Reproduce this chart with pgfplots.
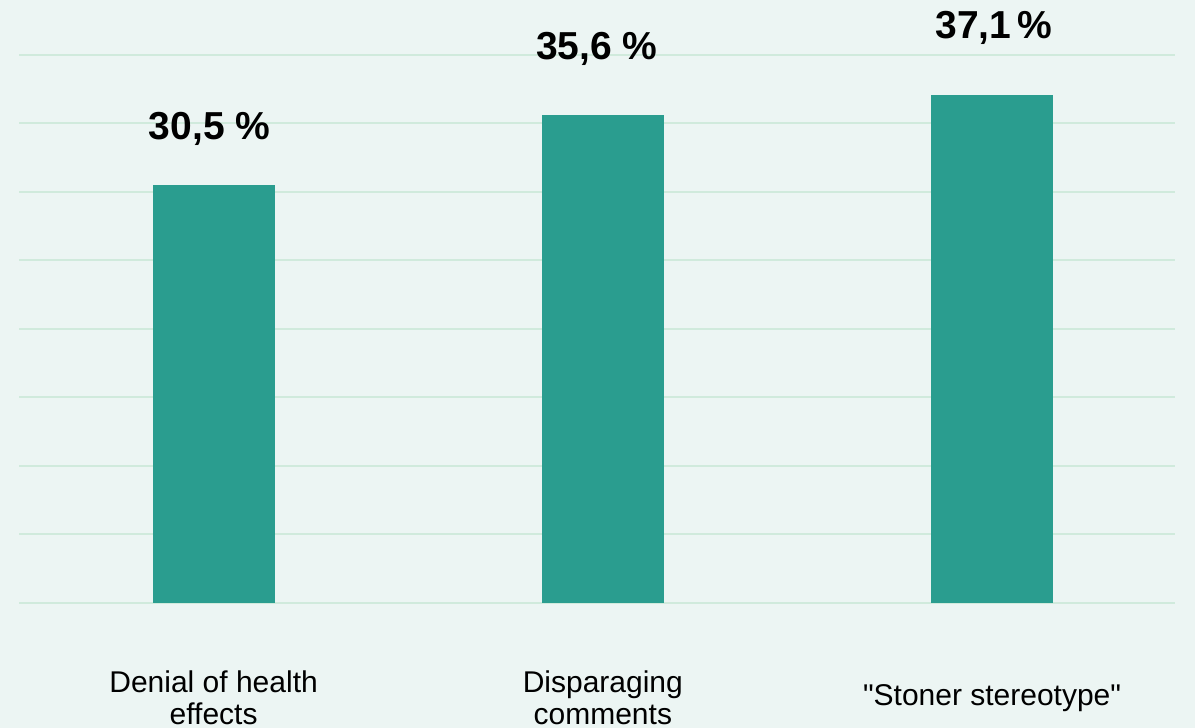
\documentclass[border=0pt]{standalone}
\usepackage{pgfplots}
\pgfplotsset{compat=1.18}
\usepackage{fontspec}
\setmainfont{Liberation Sans}[Ligatures=TeXOff]
\definecolor{bg}{HTML}{ECF5F3}
\definecolor{gridc}{HTML}{D0EADC}
\definecolor{barc}{HTML}{2A9D8F}
\begin{document}
\begin{tikzpicture}
\fill[bg] (-9.5pt,-62.5pt) rectangle (588pt,301.5pt);
\useasboundingbox (-9.5pt,-62.5pt) rectangle (588pt,301.5pt);
\begin{axis}[
  scale only axis,
  width=578pt, height=301.5pt,
  xmin=-0.5, xmax=2.47,
  ymin=0, ymax=44,
  axis line style={draw=none},
  ytick={0,5,...,40},
  yticklabels={},
  ymajorgrids,
  grid style={gridc, line width=1pt},
  major tick length=0pt,
  xtick={0,1,2},
  xticklabels={Denial of health\\effects, Disparaging\\comments, "Stoner stereotype"},
  xticklabel style={align=center, anchor=center, yshift=-47.5pt, font=\fontsize{15}{16}\selectfont, text=black},
  ybar, bar width=61pt,
  point meta=explicit symbolic,
  nodes near coords,
  every node near coord/.append style={font=\fontsize{19.5}{20}\selectfont\bfseries, anchor=base, inner sep=0pt, text=black},
]
\addplot[fill=barc, draw=none, bar shift=0pt, every node near coord/.append style={yshift=23pt, xshift=-2pt}] coordinates {(0,30.5) [30,5 \%]};
\addplot[fill=barc, draw=none, bar shift=0pt, every node near coord/.append style={yshift=28pt, xshift=-3pt}] coordinates {(1,35.6) [35,6 \%]};
\addplot[fill=barc, draw=none, bar shift=0pt, every node near coord/.append style={yshift=28pt, xshift=1pt}] coordinates {(2,37.1) [37,1\,\%]};
\end{axis}
\end{tikzpicture}
\end{document}
